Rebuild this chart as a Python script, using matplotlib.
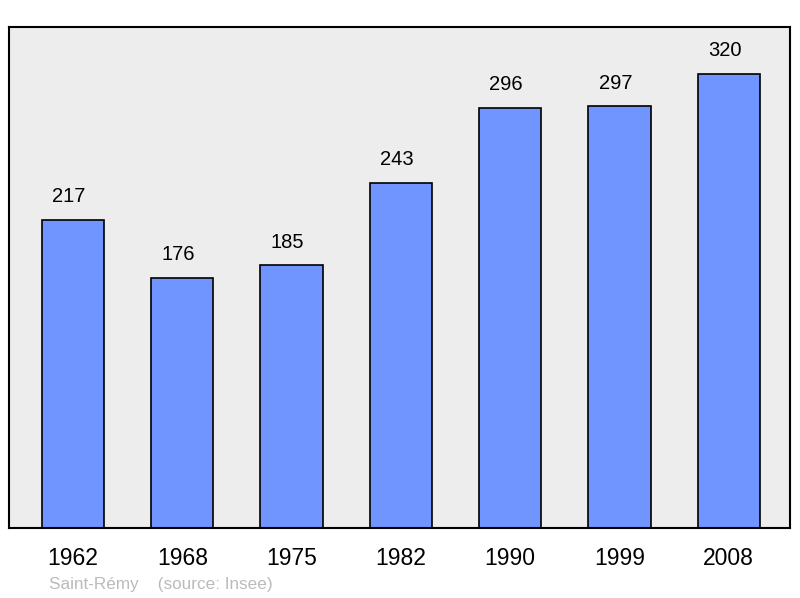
import matplotlib.pyplot as plt

years = ['1962', '1968', '1975', '1982', '1990', '1999', '2008']
population = [217, 176, 185, 243, 296, 297, 320]

plt.rcParams['font.family'] = ['Liberation Sans', 'DejaVu Sans']

fig = plt.figure(figsize=(8, 5.98), dpi=100)
ax = fig.add_axes([9 / 800, 70 / 598, 781 / 800, 501 / 598])
ax.set_facecolor('#ededed')

x = range(len(years))
ax.bar(x, population, width=0.57, color='#7095ff', edgecolor='black', linewidth=1.2)
for xi, v in zip(x, population):
    ax.annotate(str(v), (xi, v), xytext=(-3, 10), textcoords='offset points',
                ha='center', va='bottom', fontsize=14.5)

ax.set_xlim(-0.585, 6.56)
ax.set_ylim(0, 353)
ax.set_yticks([])
ax.set_xticks(list(x))
ax.set_xticklabels(years, fontsize=16.5)
ax.tick_params(axis='x', length=0, pad=14)
for s in ax.spines.values():
    s.set_linewidth(1.5)

fig.text(49 / 800, 1 - 584 / 598, 'Saint-Rémy    (source: Insee)', fontsize=12.3,
         color='#bbbbbb', ha='left', va='center')

fig.savefig('out.png', dpi=100)
